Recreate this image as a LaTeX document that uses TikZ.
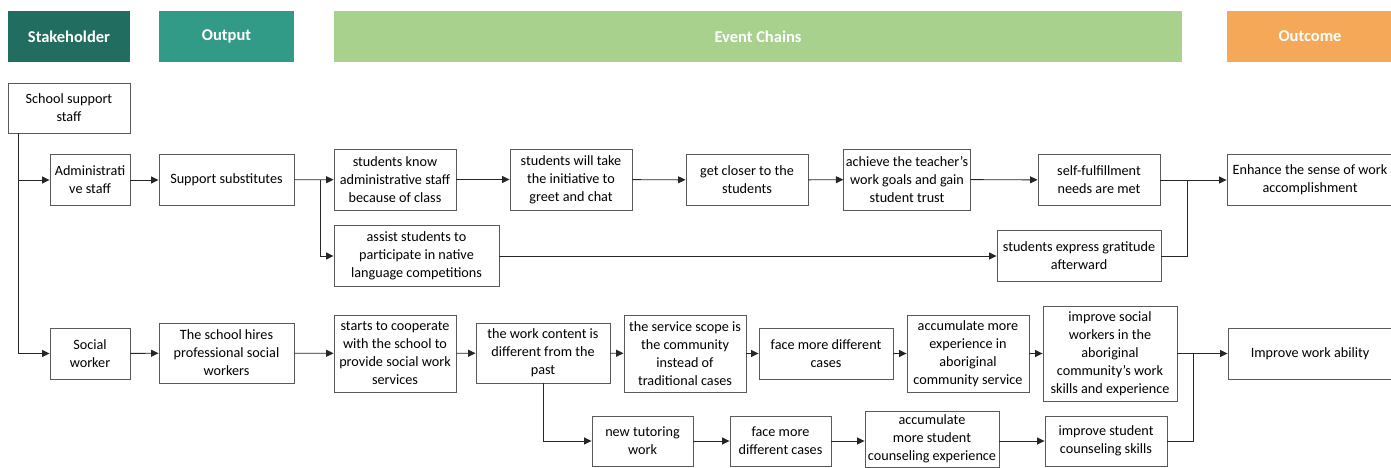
\documentclass[tikz,border=0pt]{standalone}
\usepackage{fontspec}
\setmainfont{Carlito}
\usetikzlibrary{positioning,arrows.meta,calc}
\definecolor{hdstake}{RGB}{33,110,96}
\definecolor{hdout}{RGB}{49,155,135}
\definecolor{hdchain}{RGB}{169,209,142}
\definecolor{hdoutc}{RGB}{244,168,88}
\tikzset{
  box/.style={draw=black!65, line width=0.9pt, align=center, inner sep=2pt,
              fill=white, font=\fontsize{14.2}{18}\selectfont},
  head/.style={minimum height=51pt, inner sep=0pt, text=white,
               font=\fontsize{16.5}{18}\selectfont\bfseries},
  arr/.style={-{Triangle[length=7.5pt,width=7pt]}, line width=0.9pt, black!85},
  ln/.style={line width=0.9pt, black!85},
}

\begin{document}
\begin{tikzpicture}[x=1pt, y=-1pt]
    \useasboundingbox (0,0) rectangle (1391,468);
    % column headers
    \node[head, fill=hdstake, minimum width=122pt] (hstake) at (69,36.5) {Stakeholder};
    \node[head, fill=hdout, minimum width=135pt] (hout) at (226.5,36.5) {Output};
    \node[head, fill=hdchain, minimum width=848pt] (hchain) at (758,36.5) {Event Chains};
    \node[head, fill=hdoutc, minimum width=166pt] (houtc) at (1310,36.5) {Outcome};
    % stakeholders
    \node[box, minimum width=122pt, minimum height=50pt] (staff) at (69,108) {School support\\staff};
    \node[box, minimum width=80pt, minimum height=51pt] (admin) at (90,180) {Administrati\\ve staff};
    \node[box, minimum width=80pt, minimum height=51pt] (social) at (90,353.5) {Social\\worker};
    % administrative staff chain
    \node[box, minimum width=135pt, minimum height=51pt] (subst) at (226.5,180) {Support substitutes};
    \node[box, minimum width=122pt, minimum height=61pt] (know) at (395,179.5) {students know\\administrative staff\\because of class};
    \node[box, minimum width=122pt, minimum height=61pt] (greet) at (571,179.5) {students will take\\the initiative to\\greet and chat};
    \node[box, minimum width=122pt, minimum height=51pt] (closer) at (747,180) {get closer to the\\students};
    \node[box, minimum width=122pt, minimum height=61pt] (goals) at (907,179.5) {achieve the teacher's\\work goals and gain\\student trust};
    \node[box, minimum width=122pt, minimum height=51pt] (selff) at (1099,180) {self-fulfillment\\needs are met};
    \node[box, minimum width=166pt, minimum height=51pt] (enhance) at (1310,180) {Enhance the sense of work\\accomplishment};
    \node[box, minimum width=165pt, minimum height=61pt] (assist) at (416.5,256) {assist students to\\participate in native\\language competitions};
    \node[box, minimum width=164pt, minimum height=51pt] (grat) at (1079,256) {students express gratitude\\afterward};
    % social worker chain
    \node[box, minimum width=135pt, minimum height=60pt] (hires) at (226.5,353) {The school hires\\professional social\\workers};
    \node[box, minimum width=122pt, minimum height=77pt] (coop) at (395,353.5) {starts to cooperate\\with the school to\\provide social work\\services};
    \node[box, minimum width=134pt, minimum height=60pt] (content) at (543,353) {the work content is\\different from the\\past};
    \node[box, minimum width=122pt, minimum height=77pt] (scope) at (685,353.5) {the service scope is\\the community\\instead of\\traditional cases};
    \node[box, minimum width=134pt, minimum height=51pt] (cases) at (826,353.5) {face more different\\cases};
    \node[box, minimum width=122pt, minimum height=77pt] (aborig) at (968,353.5) {accumulate more\\experience in\\aboriginal\\community service};
    \node[box, minimum width=134pt, minimum height=95pt] (impsoc) at (1110,353.5) {improve social\\workers in the\\aboriginal\\community’s work\\skills and experience};
    \node[box, minimum width=164pt, minimum height=51pt] (ability) at (1310,353.5) {Improve work ability};
    \node[box, minimum width=101pt, minimum height=50pt] (tutor) at (642.5,441) {new tutoring\\work};
    \node[box, minimum width=101pt, minimum height=50pt] (cases2) at (780.5,441) {face more\\different cases};
    \node[box, minimum width=134pt, minimum height=56pt] (counsel) at (932,439) {accumulate\\more student\\counseling experience};
    \node[box, minimum width=122pt, minimum height=50pt] (impstu) at (1106,441) {improve student\\counseling skills};
    % junction points
    \coordinate (trunk) at ($(staff.south west)+(11,0)$);
    \coordinate (fork) at (320,180);
    \coordinate (join1) at (1187,180);
    \coordinate (join2) at (1193,353.5);
    % connectors
    \draw[arr] (trunk) |- (admin.west);
    \draw[arr] (trunk) |- (social.west);
    \draw[arr] (admin) -- (subst);
    \draw[arr] (subst) -- (know);
    \draw[arr] (fork) |- (assist.west);
    \draw[arr] (know) -- (greet);
    \draw[arr] (greet) -- (closer);
    \draw[arr] (closer) -- (goals);
    \draw[arr] (goals) -- (selff);
    \draw[arr] (selff) -- (enhance);
    \draw[arr] (assist) -- (grat);
    \draw[ln] (grat.east) -| (join1);
    \draw[arr] (social) -- (hires);
    \draw[arr] (hires) -- (coop);
    \draw[arr] (coop) -- (content);
    \draw[arr] (content) -- (scope);
    \draw[arr] (scope) -- (cases);
    \draw[arr] (cases) -- (aborig);
    \draw[arr] (aborig) -- (impsoc);
    \draw[arr] (impsoc.east |- ability) -- (ability);
    \draw[arr] (content.south) |- (tutor.west);
    \draw[arr] (tutor) -- (cases2);
    \draw[arr] (cases2) -- (counsel.west |- cases2);
    \draw[arr] (counsel.east |- impstu) -- (impstu);
    \draw[ln] (impstu.east) -| (join2);
\end{tikzpicture}
\end{document}
